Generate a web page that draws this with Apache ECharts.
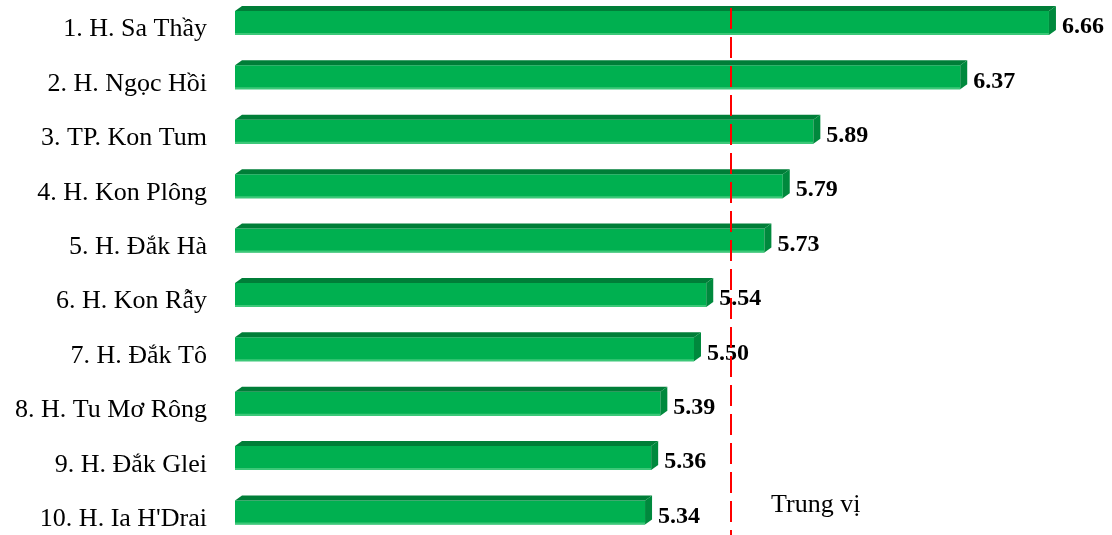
<!DOCTYPE html>
<html>
<head>
<meta charset="utf-8">
<script src="https://cdn.jsdelivr.net/npm/echarts@6/dist/echarts.min.js"></script>
<style>
html,body{margin:0;padding:0;background:#fff;}
#main{width:1112px;height:535px;}
</style>
</head>
<body>
<div id="main"></div>
<script>
var categories = ["1. H. Sa Thầy","2. H. Ngọc Hồi","3. TP. Kon Tum","4. H. Kon Plông","5. H. Đắk Hà","6. H. Kon Rẫy","7. H. Đắk Tô","8. H. Tu Mơ Rông","9. H. Đắk Glei","10. H. Ia H'Drai"];
var values = [6.66, 6.37, 5.89, 5.79, 5.73, 5.54, 5.50, 5.39, 5.36, 5.34];
var medianValue = 5.62;
var medianLabel = "Trung vị";
var axisStart = 4;

var chart = echarts.init(document.getElementById('main'), null, {renderer:'canvas'});
var FONT = '"Liberation Serif","Times New Roman",serif';
var data = values.map(function(v,i){return [v,i];});
var labelPos = categories.map(function(c,i){return i + 0.14;});

chart.setOption({
  animation:false,
  grid:{left:235, right:0, top:8, bottom:0},
  xAxis:{type:'value', min:axisStart, max:6.866, show:false},
  yAxis:{type:'value', inverse:true, min:-0.257, max:9.432,
    axisLine:{show:false}, axisTick:{show:false}, splitLine:{show:false},
    axisLabel:{customValues:labelPos, margin:28, color:'#000', fontFamily:FONT, fontSize:26,
      formatter:function(v){return categories[Math.round(v)];}}
  },
  series:[{
    type:'custom',
    data:data,
    clip:false,
    renderItem:function(params, api){
      var v = api.value(0), i = api.value(1);
      var s = api.coord([axisStart, i]);
      var e = api.coord([v, i]);
      var h = 24, dx = 7, dy = 5;
      var x0 = s[0], x1 = e[0], y = e[1]-11;
      return {type:'group', children:[
        {type:'rect', shape:{x:x0, y:y, width:x1-x0, height:h}, style:{fill:'#00b050'}},
        {type:'rect', shape:{x:x0, y:y+h-2, width:x1-x0, height:2}, style:{fill:'#3cc878'}},
        {type:'polygon', shape:{points:[[x0,y],[x0+dx,y-dy],[x1+dx,y-dy],[x1,y]]}, style:{fill:'#007e38'}},
        {type:'polygon', shape:{points:[[x1,y],[x1+dx,y-dy],[x1+dx,y+h-dy],[x1,y+h]]}, style:{fill:'#00893d'}},
        {type:'text', x:x1+13, y:e[1]+5, style:{text:v.toFixed(2), fill:'#000', font:'bold 24px '+FONT, verticalAlign:'middle', align:'left'}}
      ]};
    },
    markLine:{
      symbol:['none','none'], silent:true,
      label:{show:false},
      lineStyle:{color:'#ff0000', width:2, type:[21,8]},
      data:[{xAxis:medianValue}]
    },
    z:2
  }],
  graphic:[{type:'text', left:771, top:492, style:{text:medianLabel, fill:'#000', font:'26px '+FONT}}]
});
</script>
</body>
</html>
